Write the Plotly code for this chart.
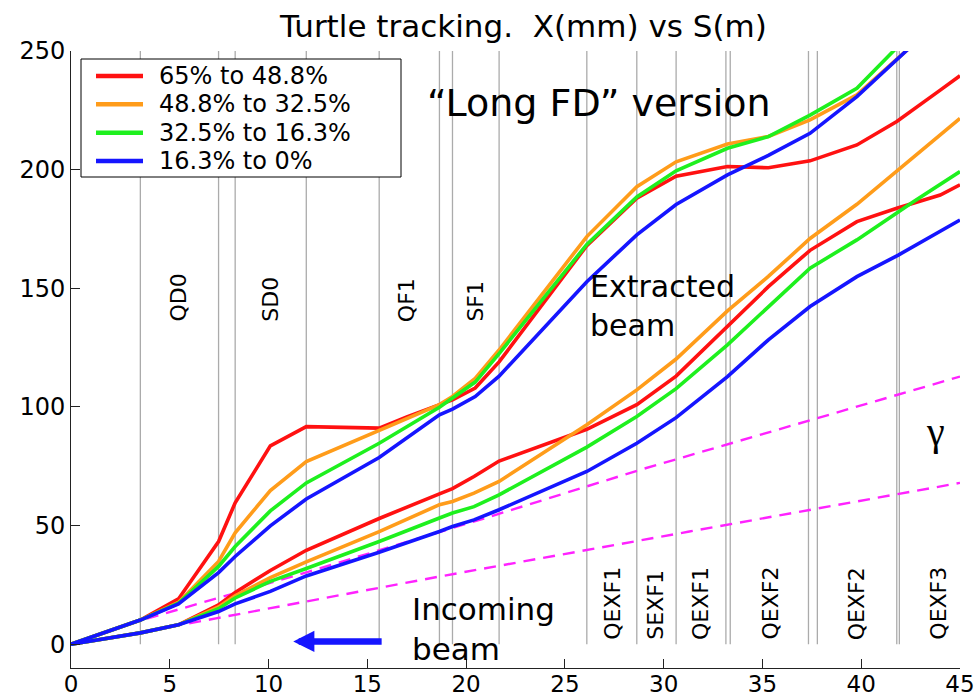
import plotly.graph_objects as go

# ---- Data -----------------------------------------------------------------
series_names = ["65% to 48.8%", "48.8% to 32.5%", "32.5% to 16.3%", "16.3% to 0%"]
series_colors = ["#ff1111", "#ff9c1a", "#1ef01e", "#1515ff"]

# Extracted beam (upper bundle): S (m) and X (mm)
red_ext_s = [0, 3.51, 5.44, 7.47, 8.31, 10.09, 11.91, 15.6, 17.0, 18.65, 19.31, 20.46, 21.67,
             26.11, 28.64, 30.63, 33.23, 35.3, 37.41, 39.78, 41.8, 44.0, 45]
red_ext_x = [0, 10.2, 19.1, 43.3, 59.6, 83.6, 91.7, 91.1, 95.8, 101, 103, 108, 119,
             168, 188, 197.2, 201.3, 200.8, 203.7, 210.4, 220.3, 233.5, 239.6]
orange_ext_s = [0, 3.51, 5.44, 7.47, 8.31, 10.09, 11.91, 15.6, 18.65, 19.31, 20.46, 21.67,
                26.11, 28.64, 30.63, 33.23, 35.3, 37.41, 39.78, 42.4]
orange_ext_x = [0, 10.2, 17.6, 34.9, 47, 64.8, 77, 90.3, 101, 104.4, 112, 124,
                171.8, 192.8, 203.3, 210.8, 214, 221, 231.5, 251]
green_ext_s = [0, 3.51, 5.44, 7.47, 8.31, 10.09, 11.91, 15.6, 18.65, 19.31, 20.46, 21.67,
               26.11, 28.64, 30.63, 33.23, 35.3, 37.41, 39.78, 41.75]
green_ext_x = [0, 10.2, 17.3, 32.8, 41.2, 56.2, 68, 84.7, 99.9, 103.7, 110.5, 122.5,
               168.5, 188.5, 199.5, 209, 213.9, 223, 234.3, 251]
blue_ext_s = [0, 3.51, 5.44, 7.47, 8.31, 10.09, 11.91, 15.6, 18.65, 19.31, 20.46, 21.67,
              26.11, 28.64, 30.63, 33.23, 35.3, 37.41, 39.78, 42.4]
blue_ext_x = [0, 10.2, 17.0, 30.2, 37, 49.9, 61.2, 78.7, 96.7, 99.1, 104.4, 113,
              152.8, 172.5, 185.3, 197.8, 206, 215.3, 230.8, 251]

# Incoming-side bundle (lower curves)
red_inc_s = [0, 3.51, 5.44, 7.47, 8.31, 10.09, 11.91, 15.6, 18.65, 19.31, 20.4, 21.67,
             26.11, 28.64, 30.63, 33.23, 35.3, 37.41, 39.78, 41.8, 44.0, 45]
red_inc_x = [0, 4.8, 8.2, 16.6, 21.8, 31.1, 39.6, 53.0, 63.4, 65.6, 70.7, 77.2,
             90.6, 101, 113, 134, 150.7, 166, 178.1, 183.7, 189.3, 193.6]
orange_inc_s = [0, 3.51, 5.44, 7.47, 8.31, 10.09, 11.91, 15.6, 18.65, 19.31, 20.4, 21.67,
                26.11, 28.64, 30.63, 33.23, 35.3, 37.41, 39.78, 41.8, 45]
orange_inc_x = [0, 4.8, 8.2, 15.7, 20.4, 28.1, 34.7, 47.5, 58.8, 60.2, 63.7, 68.6,
                92.5, 107.2, 120.2, 140.5, 155, 171, 185.4, 199.5, 221.6]
green_inc_s = [0, 3.51, 5.44, 7.47, 8.31, 10.09, 11.91, 15.6, 18.65, 19.31, 20.4, 21.67,
               26.11, 28.64, 30.63, 33.23, 35.3, 37.41, 39.78, 42.64, 45]
green_inc_x = [0, 4.8, 8.2, 15.0, 19.5, 26.5, 31.9, 43.3, 53.2, 55.3, 58, 63,
               83.1, 96, 107.7, 126.2, 142.2, 158.5, 170.4, 186.5, 199.2]
blue_inc_s = [0, 3.51, 5.44, 7.47, 8.31, 10.09, 11.91, 15.6, 18.65, 19.31, 20.4, 21.67,
              26.11, 28.64, 30.63, 33.23, 35.3, 37.41, 39.78, 41.9, 45]
blue_inc_x = [0, 4.8, 8.2, 13.8, 17, 22.3, 28.8, 38.8, 47.5, 49.6, 52.4, 56.7,
              72.8, 84.7, 95.5, 112.8, 128.3, 142.3, 154.9, 164.1, 178.8]

# Beam envelopes (gamma)
gamma_hi_s = [0, 3.51, 12.0, 20.9, 28.8, 45]
gamma_hi_x = [0, 10, 30.5, 53, 73.5, 112.8]
gamma_lo_s = [0, 3.51, 7.4, 12.1, 18.69, 31.3, 45]
gamma_lo_x = [0, 5, 11, 18.3, 28.6, 47.5, 68]

# Element boundaries along S (m)
element_edges = [3.51, 7.47, 8.31, 11.91, 15.6, 18.65, 19.31, 21.67, 26.11, 28.64,
                 30.63, 33.15, 33.37, 37.33, 37.78, 41.80, 41.93]

# Element names and their centres along S
final_focus_names = ["QD0", "SD0", "QF1", "SF1"]
final_focus_s = [5.45, 10.09, 17.02, 20.46]
extraction_names = ["QEXF1", "SEXF1", "QEXF1", "QEXF2", "QEXF2", "QEXF3"]
extraction_s = [27.4, 29.6, 31.87, 35.39, 39.78, 43.9]

x_ticks = [0, 5, 10, 15, 20, 25, 30, 35, 40, 45]
y_ticks = [0, 50, 100, 150, 200, 250]

# ---- Figure ---------------------------------------------------------------
W, H = 977, 697
ML, MR, MT, MB = 71, 17, 51, 29
FONT = "DejaVu Sans"


def px_to_paper(px, py):
    return (px - ML) / (W - ML - MR), (H - MB - py) / (H - MT - MB)


fig = go.Figure()

# element boundaries, drawn under the tracks
edge_xs, edge_ys = [], []
for s in element_edges:
    edge_xs += [s, s, None]
    edge_ys += [0, 250, None]
fig.add_trace(go.Scatter(x=edge_xs, y=edge_ys, mode="lines",
                         line=dict(color="#ababab", width=1.3),
                         hoverinfo="skip", showlegend=False))

# envelopes
for s_vals, x_vals in [(gamma_hi_s, gamma_hi_x), (gamma_lo_s, gamma_lo_x)]:
    fig.add_trace(go.Scatter(x=s_vals, y=x_vals, mode="lines",
                             line=dict(color="#ff22ff", width=2.4, dash="12px,8px"),
                             hoverinfo="skip", showlegend=False))

tracks = [
    (red_ext_s, red_ext_x, red_inc_s, red_inc_x),
    (orange_ext_s, orange_ext_x, orange_inc_s, orange_inc_x),
    (green_ext_s, green_ext_x, green_inc_s, green_inc_x),
    (blue_ext_s, blue_ext_x, blue_inc_s, blue_inc_x),
]
for name, color, (es, ex, is_, ix) in zip(series_names, series_colors, tracks):
    for s_vals, x_vals in [(is_, ix), (es, ex)]:
        fig.add_trace(go.Scatter(x=s_vals, y=x_vals, mode="lines", name=name,
                                 line=dict(color=color, width=3.6),
                                 showlegend=False))

annotations = []
shapes = []

# title
tx, ty = px_to_paper(523, 25.5)
annotations.append(dict(text="Turtle tracking.  X(mm) vs S(m)", x=tx, y=ty,
                        xref="paper", yref="paper", xanchor="center", yanchor="middle",
                        showarrow=False, font=dict(family=FONT, size=31, color="black")))

# text labels inside the axes
annotations.append(dict(text="\u201cLong FD\u201d version", x=26.72, y=228.1,
                        xanchor="center", yanchor="middle", showarrow=False,
                        font=dict(family=FONT, size=38, color="black")))
annotations.append(dict(text="Extracted<br>beam", x=26.16, y=142.6, align="left",
                        xanchor="left", yanchor="middle", showarrow=False,
                        font=dict(family=FONT, size=30, color="black")))
annotations.append(dict(text="Incoming<br>beam", x=17.16, y=6.6, align="left",
                        xanchor="left", yanchor="middle", showarrow=False,
                        font=dict(family=FONT, size=31, color="black")))
annotations.append(dict(text="\u03b3", x=43.78, y=89.5, xanchor="center", yanchor="middle",
                        showarrow=False,
                        font=dict(family="Liberation Serif", size=40, color="black")))

# incoming-beam direction arrow
annotations.append(dict(text="", x=11.25, y=1.2, ax=15.8, ay=1.2, axref="x", ayref="y",
                        showarrow=True, arrowhead=2, arrowsize=0.65, arrowwidth=6.5,
                        arrowcolor="#1515ff"))

# element names
for name, s in zip(final_focus_names, final_focus_s):
    annotations.append(dict(text=name, x=s, y=135, textangle=-90, xanchor="center",
                            yanchor="bottom", showarrow=False,
                            font=dict(family=FONT, size=22, color="black")))
for name, s in zip(extraction_names, extraction_s):
    annotations.append(dict(text=name, x=s, y=1, textangle=-90, xanchor="center",
                            yanchor="bottom", showarrow=False,
                            font=dict(family=FONT, size=22, color="black")))

# legend box
lx0, ly0 = px_to_paper(81, 177)
lx1, ly1 = px_to_paper(401, 59)
shapes.append(dict(type="rect", xref="paper", yref="paper", x0=lx0, y0=ly0, x1=lx1, y1=ly1,
                   line=dict(color="black", width=1), fillcolor="white", layer="above"))
for i, (name, color) in enumerate(zip(series_names, series_colors)):
    row_y = 76 + 28.33 * i
    sx0, sy = px_to_paper(96, row_y)
    sx1, _ = px_to_paper(143, row_y)
    tx0, _ = px_to_paper(157, row_y)
    shapes.append(dict(type="line", xref="paper", yref="paper", x0=sx0, x1=sx1, y0=sy, y1=sy,
                       line=dict(color=color, width=4.5), layer="above"))
    annotations.append(dict(text=name, x=tx0, y=sy, xref="paper", yref="paper",
                            xanchor="left", yanchor="middle", showarrow=False,
                            font=dict(family=FONT, size=24, color="black")))

fig.update_layout(
    width=W, height=H,
    margin=dict(l=ML, r=MR, t=MT, b=MB, autoexpand=False),
    paper_bgcolor="white", plot_bgcolor="white",
    showlegend=False,
    annotations=annotations, shapes=shapes,
    font=dict(family=FONT, size=24, color="black"),
)
fig.update_xaxes(range=[0, 45], tickvals=x_ticks, ticks="inside", ticklen=9,
                 tickcolor="#222", showline=True, linecolor="#222", linewidth=1,
                 showgrid=False, zeroline=False, mirror=False, automargin=False,
                 ticklabelstandoff=-5,
                 tickfont=dict(family=FONT, size=23, color="black"))
fig.update_yaxes(range=[-10, 250], tickvals=y_ticks, ticks="inside", ticklen=9,
                 tickcolor="#222", showline=True, linecolor="#222", linewidth=1,
                 showgrid=False, zeroline=False, mirror=False, automargin=False,
                 tickfont=dict(family=FONT, size=24, color="black"))

fig.write_html("out.html")
